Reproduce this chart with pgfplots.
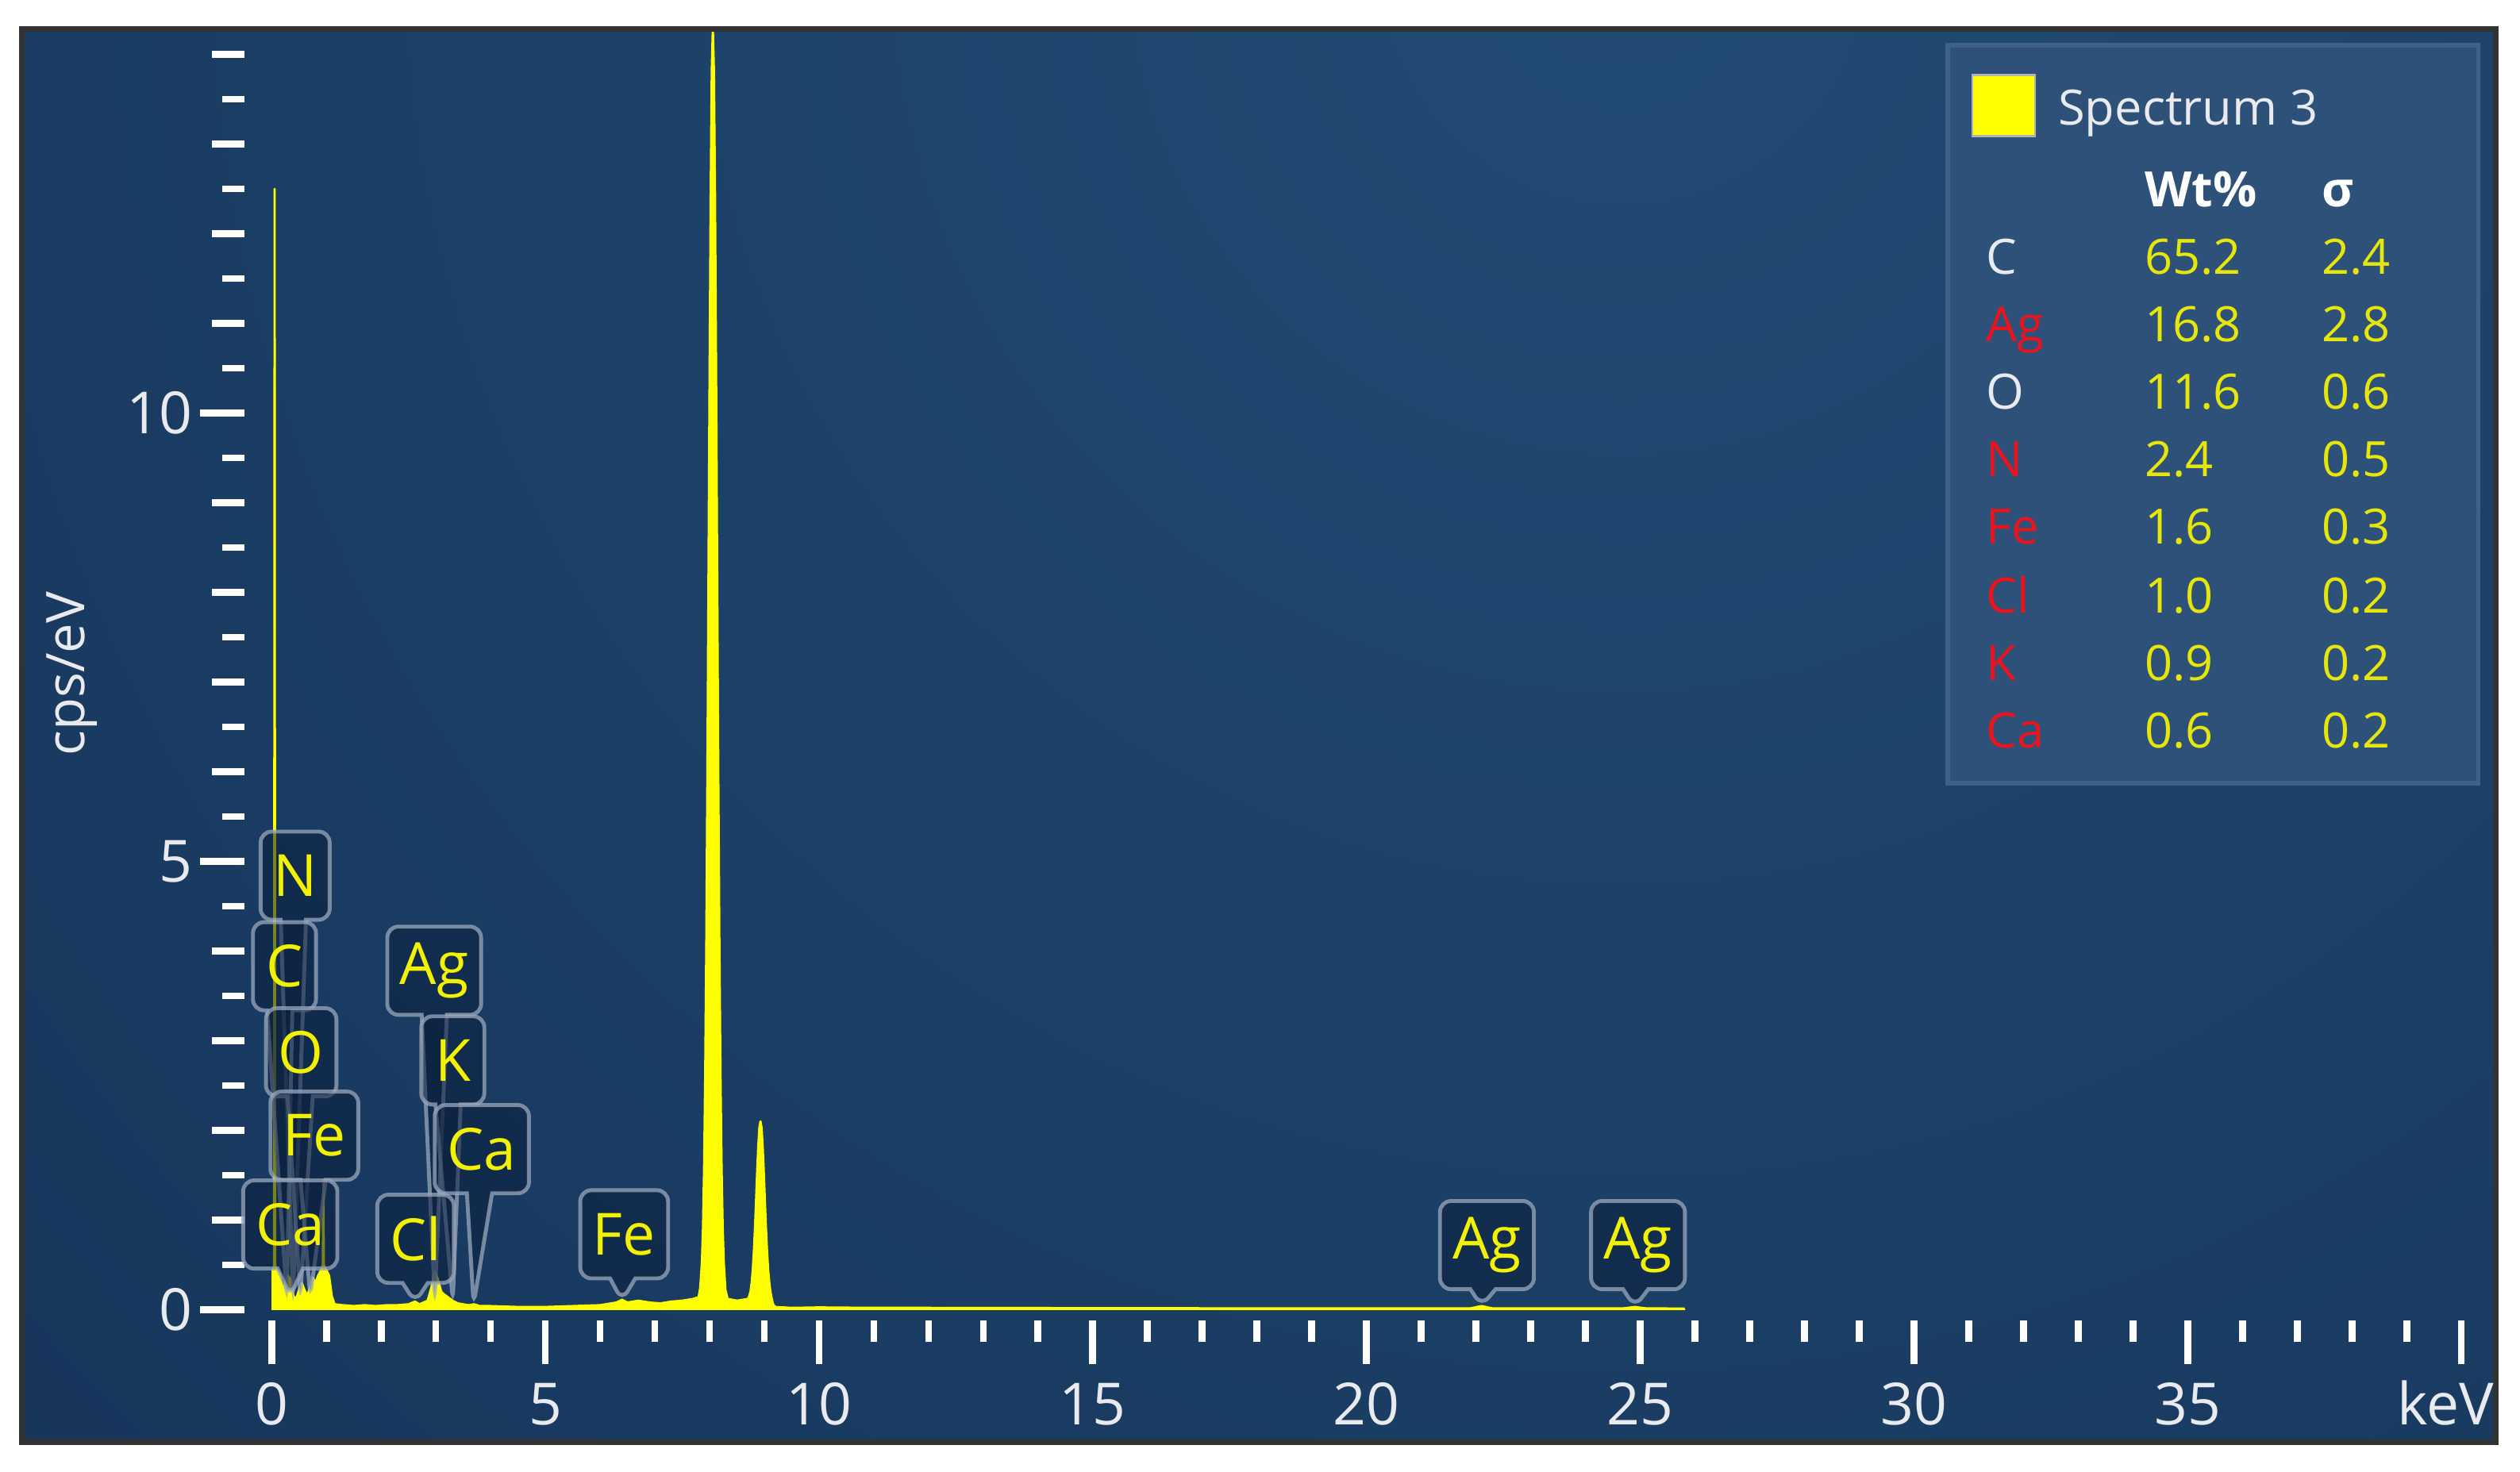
\documentclass[border=0pt]{standalone}
\usepackage{fontspec}
\setmainfont{Open Sans}
\usepackage{pgfplots}
\pgfplotsset{compat=1.18}
\usetikzlibrary{shapes.callouts}
\definecolor{bgin}{HTML}{214C74}
\definecolor{bgout}{HTML}{12294E}
\definecolor{legbg}{HTML}{2D5179}
\definecolor{legedge}{HTML}{3D6189}
\definecolor{boxfill}{HTML}{0B1F3C}
\definecolor{boxedge}{HTML}{9AA8BE}
\definecolor{labyel}{HTML}{F2F200}
\definecolor{valyel}{HTML}{E6E60A}
\definecolor{elred}{HTML}{E8141E}
\definecolor{txtw}{HTML}{E8EAEE}
\definecolor{specyel}{HTML}{FFFF00}
\pgfdeclareradialshading{bgshade}{\pgfpoint{0bp}{0bp}}{color(0bp)=(bgin); color(27bp)=(bgout); color(50bp)=(bgout)}
\tikzset{callbox/.style={rectangle callout, rounded corners=2pt, draw=boxedge, draw opacity=0.75,
     line width=0.7pt, fill=boxfill, fill opacity=0.55, text opacity=1, text=labyel,
     font=\fontsize{10.5}{12}\selectfont, inner xsep=0.08cm, inner ysep=0pt,
     minimum height=0.56cm, minimum width=0.40cm, callout pointer width=0.16cm}}
\begin{document}
\begin{tikzpicture}
\fill[white] (0,0) rectangle (16cm,9.348cm);
% frame background
\fill[bgout] (0.141,0.191) rectangle (15.848,9.166);
\begin{scope}
\clip (0.141,0.191) rectangle (15.848,9.166);
\shade[shading=bgshade] (10.3,9.6) circle (20cm);
\end{scope}
\draw[line width=1.0pt, color=black!80] (0.141,0.191) rectangle (15.848,9.166);

\begin{axis}[
  at={(1.7245cm,1.031cm)}, anchor=south west,
  scale only axis, width=13.903cm, height=8.114cm,
  xmin=0, xmax=40, ymin=0, ymax=14.25,
  axis lines=left, axis line style={draw=none},
  tick align=outside,
  major tick length=0.28cm, minor tick length=0.14cm,
  tick style={color=white, line width=1.25pt},
  xtick={0,5,...,40},
  xticklabels={0,5,10,15,20,25,30,35,{\hspace*{-0.2cm}keV}},
  minor x tick num=4,
  ytick={0,5,10},
  minor ytick={0.5,1.5,...,13.5},
  extra y ticks={1,2,3,4,6,7,8,9,11,12,13,14},
  extra y tick labels={},
  extra y tick style={major tick length=0.206cm},
  xtick style={yshift=-0.067cm},
  ytick style={xshift=-0.173cm},
  /pgf/number format/assume math mode=true,
  ticklabel style={font=\fontsize{10.5}{12}\selectfont, text=txtw},
  yticklabel style={anchor=east, inner sep=0pt, xshift=-0.214cm},
  xticklabel style={anchor=base, inner sep=0pt, yshift=-0.45cm},
  clip mode=individual,
]
\addplot[fill=specyel, draw=specyel, line width=0.4pt, line join=round] coordinates {
(-0.05,0) (-0.02,0.30) (0.00,0.44) (0.03,0.44) (0.045,0.50) (0.055,12.5) (0.065,0.50)
(0.10,0.43) (0.15,0.40) (0.20,0.22) (0.25,0.30) (0.30,0.38) (0.35,0.33) (0.40,0.15)
(0.45,0.12) (0.50,0.22) (0.55,0.30) (0.60,0.22) (0.65,0.15) (0.70,0.25) (0.75,0.36)
(0.80,0.30) (0.85,0.38) (0.90,0.44) (0.935,0.50) (0.945,1.45) (0.955,0.50) (1.00,0.44)
(1.05,0.38) (1.10,0.15) (1.15,0.06) (1.30,0.05) (1.50,0.04) (1.70,0.05) (1.90,0.04)
(2.10,0.05) (2.30,0.05) (2.50,0.06) (2.62,0.09) (2.70,0.06) (2.85,0.10) (2.92,0.25)
(2.98,0.43) (3.03,0.35) (3.10,0.20) (3.15,0.17) (3.22,0.14) (3.30,0.10) (3.40,0.07)
(3.60,0.05) (3.70,0.06) (3.80,0.04) (4.00,0.04) (4.50,0.03) (5.00,0.03) (5.50,0.04)
(6.00,0.05) (6.30,0.08) (6.40,0.11) (6.50,0.08) (6.70,0.10) (6.90,0.08) (7.10,0.07)
(7.30,0.09) (7.50,0.10) (7.70,0.12) (7.80,0.14) (7.83,0.25) (7.86,0.53) (7.88,0.92)
(7.90,1.58) (7.92,2.61) (7.94,4.07) (7.96,5.96) (7.98,8.16) (8.00,10.43) (8.02,12.43)
(8.04,13.82) (8.06,14.3) (8.08,13.82) (8.10,12.43) (8.12,10.43) (8.14,8.16) (8.16,5.96)
(8.18,4.07) (8.20,2.61) (8.22,1.58) (8.24,0.92) (8.26,0.53) (8.29,0.22) (8.33,0.12)
(8.50,0.10) (8.70,0.12) (8.73,0.16) (8.75,0.21) (8.77,0.31) (8.79,0.45) (8.81,0.66)
(8.83,0.92) (8.85,1.23) (8.87,1.55) (8.89,1.83) (8.91,2.03) (8.93,2.10) (8.95,2.03)
(8.97,1.83) (8.99,1.55) (9.01,1.23) (9.03,0.92) (9.05,0.66) (9.07,0.45) (9.09,0.31)
(9.11,0.21) (9.13,0.14) (9.16,0.06) (9.20,0.03) (9.50,0.02) (10.0,0.025) (11,0.02)
(12,0.02) (14,0.018) (16,0.016) (18,0.015) (20,0.015) (21.9,0.015) (22.1,0.04)
(22.3,0.015) (24.7,0.015) (24.9,0.03) (25.1,0.015) (25.8,0.012) (25.8,0)
} \closedcycle;
% peak labels
\node[callbox, callout absolute pointer={(axis cs:0.392,0.15)}] at (axis cs:0.43,4.84) {N};
\node[callbox, callout absolute pointer={(axis cs:0.277,0.15)}] at (axis cs:0.235,3.83) {C};
\node[callbox, callout absolute pointer={(axis cs:0.525,0.15)}] at (axis cs:0.54,2.87) {O};
\node[callbox, callout absolute pointer={(axis cs:0.705,0.15)}] at (axis cs:0.78,1.94) {Fe};
\node[callbox, callout absolute pointer={(axis cs:0.341,0.15)}] at (axis cs:0.34,0.95) {Ca};
\node[callbox, callout absolute pointer={(axis cs:2.98,0.12)}] at (axis cs:2.97,3.78) {Ag};
\node[callbox, callout absolute pointer={(axis cs:3.31,0.10)}] at (axis cs:3.31,2.78) {K};
\node[callbox, callout absolute pointer={(axis cs:3.69,0.06)}] at (axis cs:3.84,1.79) {Ca};
\node[callbox, callout absolute pointer={(axis cs:2.62,0.08)}] at (axis cs:2.63,0.79) {Cl};
\node[callbox, callout absolute pointer={(axis cs:6.40,0.10)}] at (axis cs:6.44,0.84) {Fe};
\node[callbox, callout absolute pointer={(axis cs:22.1,0.04)}] at (axis cs:22.2,0.72) {Ag};
\node[callbox, callout absolute pointer={(axis cs:24.9,0.03)}] at (axis cs:24.96,0.72) {Ag};
\end{axis}

% legend and axis title in image pixel coordinates
\begin{scope}[x=0.0050394cm, y=-0.0050394cm, shift={(0cm,9.348cm)}]
\node[rotate=90, text=txtw, font=\fontsize{9.6}{11}\selectfont, inner sep=0pt] at (91,850) {cps/eV};
\draw[fill=legbg, draw=legedge, line width=0.8pt] (2456,57) rectangle (3125,988);
\fill[specyel, draw=gray!60, line width=0.4pt] (2487,95) rectangle (2566,172);
\begin{scope}[every node/.style={inner sep=0pt, anchor=base west, font=\fontsize{8.8}{10}\selectfont}]
\node[text=txtw] at (2594,158) {Spectrum 3};
\node[text=white, font=\fontsize{8.8}{10}\selectfont\bfseries] at (2703,261) {Wt\%};
\node[text=white, font=\fontsize{8.8}{10}\selectfont\bfseries] at (2926,261) {σ};
\node[text=txtw]  at (2503,346) {C};
\node[text=elred] at (2503,431) {Ag};
\node[text=txtw]  at (2503,516) {O};
\node[text=elred] at (2503,601) {N};
\node[text=elred] at (2503,686) {Fe};
\node[text=elred] at (2503,773) {Cl};
\node[text=elred] at (2503,858) {K};
\node[text=elred] at (2503,943) {Ca};
\node[text=valyel] at (2703,346) {65.2};
\node[text=valyel] at (2703,431) {16.8};
\node[text=valyel] at (2703,516) {11.6};
\node[text=valyel] at (2703,601) {2.4};
\node[text=valyel] at (2703,686) {1.6};
\node[text=valyel] at (2703,773) {1.0};
\node[text=valyel] at (2703,858) {0.9};
\node[text=valyel] at (2703,943) {0.6};
\node[text=valyel] at (2926,346) {2.4};
\node[text=valyel] at (2926,431) {2.8};
\node[text=valyel] at (2926,516) {0.6};
\node[text=valyel] at (2926,601) {0.5};
\node[text=valyel] at (2926,686) {0.3};
\node[text=valyel] at (2926,773) {0.2};
\node[text=valyel] at (2926,858) {0.2};
\node[text=valyel] at (2926,943) {0.2};
\end{scope}
\end{scope}
\pgfresetboundingbox
\path[use as bounding box] (0,0) rectangle (16cm,9.348cm);
\end{tikzpicture}
\end{document}
